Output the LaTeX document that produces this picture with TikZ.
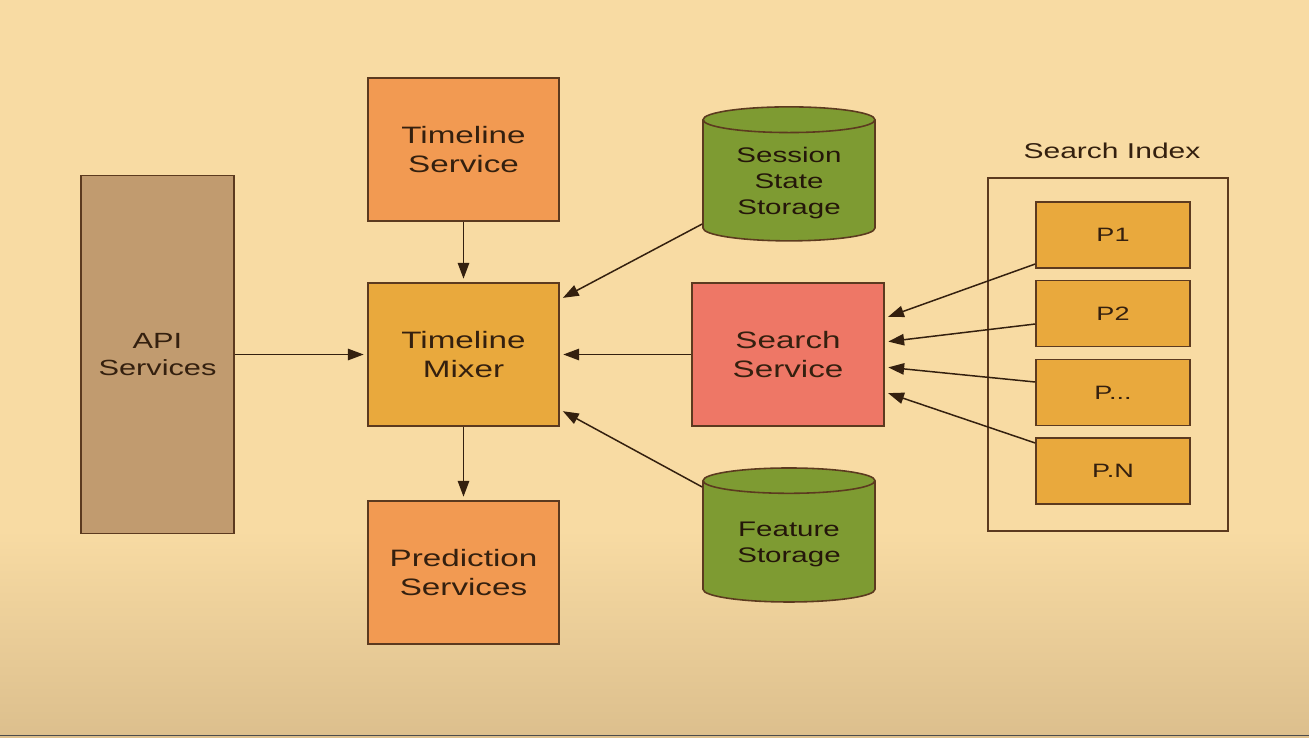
\documentclass[tikz,border=0pt]{standalone}
\usepackage{fontspec}
\setmainfont{Liberation Sans}[FakeStretch=1.4]
\usetikzlibrary{arrows.meta,shapes.geometric}
\definecolor{bgtop}{HTML}{F8DBA3}
\definecolor{bgbot}{HTML}{DCBF8D}
\definecolor{edge}{HTML}{5C3A1F}
\definecolor{ink}{HTML}{34200F}
\definecolor{apifill}{HTML}{C19B6F}
\definecolor{orangefill}{HTML}{F29A52}
\definecolor{mixfill}{HTML}{E9A93D}
\definecolor{searchfill}{HTML}{EE7766}
\definecolor{storefill}{HTML}{7E9B32}
\tikzset{box/.style = {draw=edge, line width=0.9pt, text=ink, align=center,
                       minimum width=3.82cm, minimum height=2.86cm,
                       font=\fontsize{13.5}{17}\selectfont},
         store/.style = {cylinder, shape border rotate=90, aspect=0.22,
                         draw=edge, line width=0.9pt, fill=storefill, text=ink!70!black,
                         align=center, minimum width=3.44cm, minimum height=2.68cm,
                         font=\fontsize{12}{14.8}\selectfont},
         part/.style = {draw=edge, line width=0.9pt, fill=mixfill, text=ink,
                        minimum width=3.08cm, minimum height=1.32cm,
                        font=\fontsize{11}{13}\selectfont},
         link/.style = {draw=ink, line width=0.85pt,
                        -{Triangle[length=9pt,width=6.5pt]}, shorten >=2pt}}

\begin{document}
\begin{tikzpicture}
\useasboundingbox (0,0) rectangle (26.18,-14.74);
\fill[bgtop] (0,0) rectangle (26.18,-14.74);
\shade[top color=bgtop, bottom color=bgbot] (0,-10.6) rectangle (26.18,-14.74);
\draw[black!70, line width=0.9pt] (0,-14.71) -- (26.18,-14.71);

\node [box, fill=apifill, minimum width=3.06cm, minimum height=7.16cm,
       font=\fontsize{12.5}{15.3}\selectfont] (api) at (3.15,-7.09) {API\\Services};
\node [box, fill=orangefill] (timeline) at (9.27,-2.99) {Timeline\\Service};
\node [box, fill=mixfill] (mixer) at (9.27,-7.09) {Timeline\\Mixer};
\node [box, fill=orangefill] (predict) at (9.27,-11.45) {Prediction\\Services};
\node [store] (session) at (15.78,-3.66) {Session\\State\\Storage};
\node [box, fill=searchfill, minimum width=3.84cm] (search) at (15.76,-7.09) {Search\\Service};
\node [store] (feature) at (15.78,-10.88) {Feature\\Storage};

% search index
\node [draw=edge, line width=0.7pt, minimum width=4.80cm, minimum height=7.06cm] (index) at (22.16,-7.09) {};
\node [text=ink, font=\fontsize{12.2}{14}\selectfont] (indexlabel) at (22.24,-3.02) {Search Index};
\node [part] (p1) at (22.26,-4.70) {P1};
\node [part] (p2) at (22.26,-6.27) {P2};
\node [part] (p3) at (22.26,-7.85) {P...};
\node [part] (pn) at (22.26,-9.42) {P.N};

\draw [link] (timeline) -- (mixer);
\draw [link] (mixer) -- (predict);
\draw [link] (api.east) -- (mixer.west);
\draw [link] (search.west) -- (mixer.east);
\draw [link] ([yshift=-0.82cm]session.west) -- ([yshift=1.1cm]mixer.east);
\draw [link] ([yshift=1.14cm]feature.west) -- ([yshift=-1.1cm]mixer.east);
\foreach \p/\from/\to in {p1/-0.58/0.73, p2/-0.21/0.25, p3/0.21/-0.25, pn/0.56/-0.75}
  \draw [link] ([yshift=\from cm]\p.west) -- ([yshift=\to cm]search.east);
\end{tikzpicture}
\end{document}
